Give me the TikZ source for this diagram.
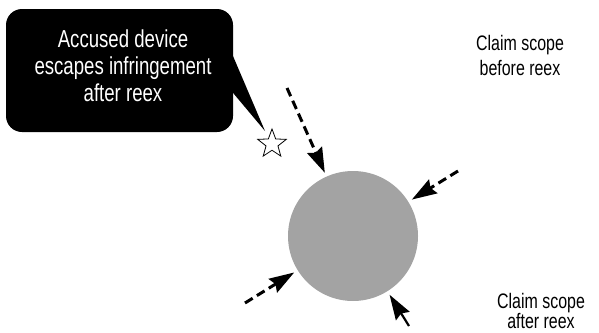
\documentclass[tikz,border=0pt]{standalone}
\usepackage{fontspec}
\setmainfont{Liberation Sans}[FakeStretch=0.76]
\usetikzlibrary{shapes.geometric,arrows.meta}
\begin{document}
\begin{tikzpicture}[x=1pt,y=-1pt,
  bighead/.style={-{Stealth[length=25pt 0 0,width=16pt 0,inset=3pt 0]}},
  darr/.style={bighead, line width=3pt, dash pattern=on 9pt off 5pt, shorten >=4pt},
  lbl/.style={align=center, inner sep=0pt}]
\useasboundingbox (0,0) rectangle (599,332);
% callout
\node[fill=black, rounded corners=16pt, minimum width=227pt, minimum height=123pt, inner sep=0pt] (box) at (119.5,70.5) {};
\coordinate (tip) at (265,131);
\fill[black] ([xshift=-3pt,yshift=21pt]box.east) -- (tip) -- ([xshift=-3pt,yshift=-19pt]box.east) -- cycle;
\node[lbl, text=white, font=\fontsize{24.5}{27}\selectfont] (bt) at (123,66) {Accused device\\escapes infringement\\after reex};
% star
\node[star, star points=5, star point ratio=2.4, draw, line width=0.8pt, minimum size=30pt, inner sep=0pt] (st) at (272,144) {};
% circle
\node[circle, fill=black!36, minimum size=130pt, inner sep=0pt] (c) at (353,236) {};
% arrows
\coordinate (a1) at (287,88);
\coordinate (a2) at (458,171);
\coordinate (a3) at (245,303);
\coordinate (a4) at (409,326);
\draw[darr] (a1) -- (c);
\draw[darr] (a2) -- (c);
\draw[darr] (a3) -- (c);
\draw[bighead, line width=2.2pt, shorten >=4pt] (a4) -- (c);
% labels
\node[lbl, font=\fontsize{21}{25}\selectfont] (t1) at (520,55) {Claim scope\\before reex};
\node[lbl, font=\fontsize{21}{20}\selectfont] (t2) at (541,311) {Claim scope\\after reex};
\end{tikzpicture}
\end{document}
